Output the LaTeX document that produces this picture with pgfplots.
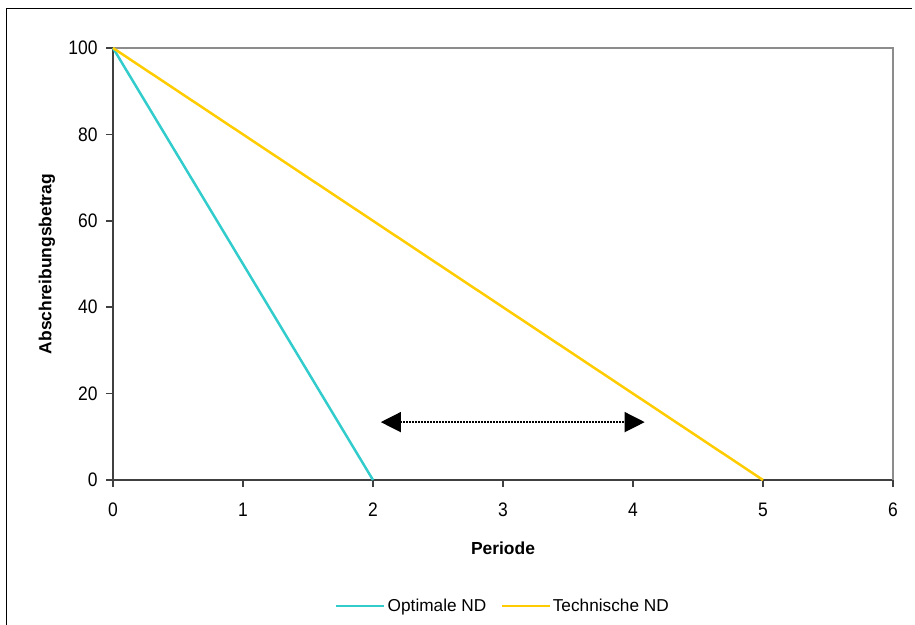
\documentclass[border=0pt]{standalone}
\usepackage{fontspec}
\setmainfont{Liberation Sans}
\usepackage{pgfplots}
\pgfplotsset{compat=1.18}
\usetikzlibrary{arrows.meta}
\definecolor{cyanline}{HTML}{33CCCC}
\definecolor{yellowline}{HTML}{FFCC00}
\definecolor{axdark}{HTML}{404040}
\definecolor{axlight}{HTML}{8C8C8C}
\begin{document}
\begin{tikzpicture}
\useasboundingbox (-113bp,-145bp) rectangle (802bp,480bp);
\draw[black, line width=1bp] (-106bp,-200bp) -- (-106bp,471bp) -- (799bp,471bp);
\begin{axis}[
  at={(0,0)}, anchor=south west,
  scale only axis, width=780bp, height=432bp,
  xmin=0, xmax=6, ymin=0, ymax=100,
  xtick={0,1,...,6}, ytick={0,20,...,100},
  axis lines*=left,
  axis line style={axdark, line width=2bp},
  every tick/.style={axdark, line width=1.5bp},
  tick align=outside, major tick length=7bp,
  /pgf/number format/assume math mode=true,
  tick label style={font=\fontsize{17.5}{20}\selectfont, text=black, yscale=1.12},
  xticklabel style={yshift=-11bp},
  yticklabel style={xshift=-5bp},
  xlabel={\textbf{Periode}}, ylabel={\textbf{Abschreibungsbetrag}},
  label style={font=\fontsize{17.5}{20}\selectfont},
  xlabel style={at={(rel axis cs:0.5,0)}, anchor=center, yshift=-68bp},
  ylabel style={at={(rel axis cs:0,0.5)}, anchor=center, yshift=66bp},
  legend style={at={(rel axis cs:0.5,-0.292)}, anchor=center, draw=none, fill=none,
    legend columns=2, font=\fontsize{17.3}{20}\selectfont,
    /tikz/every even column/.append style={column sep=12bp}},
  legend image code/.code={\draw[#1] (0bp,0bp) -- (48bp,0bp);},
  clip=false,
]
\draw[axlight, line width=2bp] (rel axis cs:0,1) -- (rel axis cs:1,1) -- (rel axis cs:1,0);
\addplot[cyanline, line width=2.5bp] coordinates {(0,100) (2,0)};
\addlegendentry{Optimale ND}
\addplot[yellowline, line width=2.5bp] coordinates {(0,100) (5,0)};
\addlegendentry{Technische ND}
\addplot[black, line width=1.3bp, dash pattern=on 1.3bp off 1.7bp, {Triangle[length=20bp,width=20bp]}-{Triangle[length=20bp,width=20bp]}, forget plot] coordinates {(2.06,13.4) (4.09,13.4)};
\end{axis}
\end{tikzpicture}
\end{document}
